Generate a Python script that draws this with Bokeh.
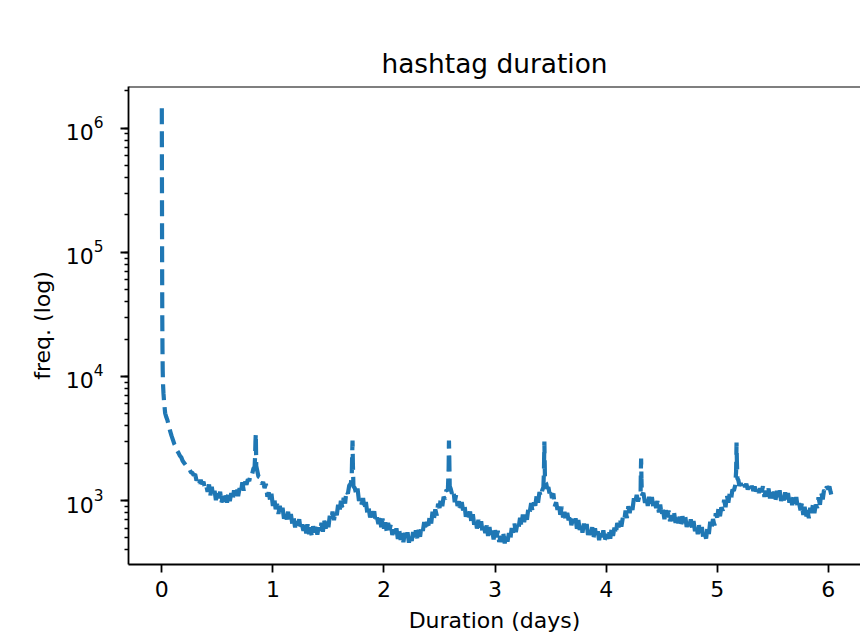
from bokeh.plotting import figure
from bokeh.embed import file_html
from bokeh.resources import INLINE
from bokeh.models import FixedTicker, LogTicker, Span, ColumnDataSource

# (duration in days, frequency), segment by segment
initial_drop = [
    (0.000, 1450000), (0.001, 420000), (0.002, 150000), (0.003, 62000), (0.004, 31000),
    (0.006, 16500), (0.008, 11200), (0.011, 8600), (0.015, 7300), (0.020, 6300),
    (0.030, 5050), (0.040, 4700), (0.050, 4450), (0.062, 4050), (0.075, 3620),
    (0.087, 3330), (0.100, 3080), (0.112, 2860), (0.125, 2720), (0.137, 2530),
    (0.150, 2420), (0.162, 2300), (0.175, 2230), (0.187, 2090), (0.200, 2010),
    (0.212, 1950), (0.225, 1870), (0.237, 1820), (0.250, 1775), (0.262, 1690),
    (0.275, 1670), (0.287, 1600), (0.300, 1630), (0.312, 1450), (0.325, 1512),
    (0.337, 1368), (0.350, 1466), (0.362, 1352), (0.375, 1418), (0.387, 1261),
    (0.400, 1329), (0.412, 1172), (0.425, 1346), (0.437, 1101), (0.450, 1292),
    (0.462, 1067), (0.475, 1197), (0.487, 1008), (0.500, 1188), (0.512, 1042),
    (0.525, 1177), (0.537, 965), (0.550, 1087), (0.562, 977), (0.575, 1145),
    (0.587, 960), (0.600, 1161), (0.612, 989), (0.625, 1145), (0.637, 995),
    (0.650, 1210), (0.662, 1094), (0.675, 1276), (0.687, 1083), (0.700, 1257),
    (0.712, 1163), (0.725, 1401), (0.737, 1201), (0.750, 1421), (0.762, 1342),
    (0.775, 1486), (0.787, 1435), (0.800, 1643), (0.812, 1617), (0.825, 1810),
    (0.835, 1850), (0.840, 2300), (0.843, 3000), (0.846, 3460), (0.848, 2600),
    (0.850, 1900),
]

day1 = [
    (0.860, 1720), (0.870, 1560), (0.887, 1530), (0.900, 1350), (0.912, 1410),
    (0.925, 1260), (0.937, 1364), (0.950, 1074), (0.962, 1164), (0.975, 1004),
    (0.987, 1134), (1.000, 905), (1.012, 1046), (1.025, 851), (1.037, 940),
    (1.050, 779), (1.062, 907), (1.075, 782), (1.087, 875), (1.100, 714),
    (1.112, 793), (1.125, 704), (1.137, 812), (1.150, 664), (1.162, 779),
    (1.175, 644), (1.187, 722), (1.200, 608), (1.212, 717), (1.225, 627),
    (1.237, 706), (1.250, 575), (1.262, 641), (1.275, 570), (1.287, 658),
    (1.300, 542), (1.312, 642), (1.325, 536), (1.337, 607), (1.350, 518),
    (1.362, 620), (1.375, 552), (1.387, 636), (1.400, 531), (1.412, 608),
    (1.425, 556), (1.437, 662), (1.450, 561), (1.462, 687), (1.475, 593),
    (1.487, 694), (1.500, 610), (1.512, 753), (1.525, 689), (1.537, 814),
    (1.550, 695), (1.562, 814), (1.575, 761), (1.587, 924), (1.600, 801),
    (1.612, 997), (1.625, 879), (1.637, 1050), (1.650, 945), (1.662, 1199),
    (1.675, 1133), (1.687, 1321), (1.700, 1360), (1.706, 1450), (1.710, 1600),
    (1.714, 2400), (1.717, 3040), (1.720, 2000), (1.725, 1300),
]

day2 = [
    (1.737, 1260), (1.750, 1130), (1.762, 1249), (1.775, 992), (1.787, 1076),
    (1.800, 930), (1.812, 1046), (1.825, 842), (1.837, 973), (1.850, 794),
    (1.862, 877), (1.875, 729), (1.887, 850), (1.900, 734), (1.912, 820),
    (1.925, 662), (1.937, 731), (1.950, 646), (1.962, 742), (1.975, 608),
    (1.987, 715), (2.000, 593), (2.012, 666), (2.025, 561), (2.037, 661),
    (2.050, 577), (2.062, 649), (2.075, 527), (2.087, 585), (2.100, 519),
    (2.112, 597), (2.125, 490), (2.137, 579), (2.150, 482), (2.162, 544),
    (2.175, 462), (2.187, 550), (2.200, 486), (2.212, 554), (2.225, 458),
    (2.237, 519), (2.250, 472), (2.262, 558), (2.275, 472), (2.287, 576),
    (2.300, 496), (2.312, 580), (2.325, 510), (2.337, 621), (2.350, 568),
    (2.362, 671), (2.375, 573), (2.387, 672), (2.400, 628), (2.412, 752),
    (2.425, 651), (2.437, 812), (2.450, 713), (2.462, 848), (2.475, 756),
    (2.487, 942), (2.500, 869), (2.512, 1040), (2.525, 901), (2.537, 1071),
    (2.550, 1023), (2.562, 1218), (2.575, 1196), (2.582, 1800), (2.585, 3040),
    (2.588, 2200), (2.592, 1300),
]

day3 = [
    (2.600, 1250), (2.612, 1135), (2.625, 1215), (2.637, 969), (2.650, 1112),
    (2.662, 902), (2.675, 987), (2.687, 815), (2.700, 972), (2.712, 833),
    (2.725, 924), (2.737, 741), (2.750, 814), (2.762, 714), (2.775, 815),
    (2.787, 662), (2.800, 774), (2.812, 637), (2.825, 710), (2.837, 594),
    (2.850, 698), (2.862, 607), (2.875, 682), (2.887, 554), (2.900, 615),
    (2.912, 546), (2.925, 630), (2.937, 518), (2.950, 610), (2.962, 509),
    (2.975, 573), (2.987, 486), (3.000, 576), (3.012, 505), (3.025, 570),
    (3.037, 464), (3.050, 518), (3.062, 463), (3.075, 540), (3.087, 450),
    (3.100, 542), (3.112, 465), (3.125, 546), (3.137, 484), (3.150, 600),
    (3.162, 551), (3.175, 651), (3.187, 555), (3.200, 647), (3.212, 601),
    (3.225, 725), (3.237, 623), (3.250, 770), (3.262, 670), (3.275, 790),
    (3.287, 700), (3.300, 870), (3.312, 803), (3.325, 955), (3.337, 821),
    (3.350, 966), (3.362, 908), (3.375, 1106), (3.387, 960), (3.400, 1172),
    (3.412, 1074), (3.425, 1212), (3.435, 1280), (3.440, 1700), (3.444, 2990),
    (3.447, 2000), (3.450, 1400),
]

day4 = [
    (3.460, 1370), (3.470, 1245), (3.480, 1280), (3.490, 1140), (3.500, 1242),
    (3.512, 1046), (3.525, 1139), (3.537, 896), (3.550, 968), (3.562, 842),
    (3.575, 950), (3.587, 767), (3.600, 891), (3.612, 730), (3.625, 812),
    (3.637, 679), (3.650, 796), (3.662, 693), (3.675, 779), (3.687, 632),
    (3.700, 703), (3.712, 624), (3.725, 719), (3.737, 591), (3.750, 697),
    (3.762, 579), (3.775, 651), (3.787, 550), (3.800, 651), (3.812, 571),
    (3.825, 646), (3.837, 528), (3.850, 590), (3.862, 526), (3.875, 610),
    (3.887, 504), (3.900, 597), (3.912, 500), (3.925, 565), (3.937, 480),
    (3.950, 571), (3.962, 504), (3.975, 575), (3.987, 475), (4.000, 539),
    (4.012, 490), (4.025, 581), (4.037, 492), (4.050, 601), (4.062, 518),
    (4.075, 606), (4.087, 534), (4.100, 660), (4.112, 606), (4.125, 718),
    (4.137, 616), (4.150, 724), (4.162, 680), (4.175, 829), (4.187, 722),
    (4.200, 900), (4.212, 791), (4.225, 940), (4.237, 837), (4.250, 1042),
    (4.262, 960), (4.275, 1112), (4.287, 981), (4.300, 1097), (4.310, 1095),
    (4.312, 1600), (4.315, 2180), (4.318, 1500), (4.322, 1100),
]

day5 = [
    (4.335, 1155), (4.350, 957), (4.362, 1071), (4.375, 905), (4.387, 1071),
    (4.400, 941), (4.412, 1067), (4.425, 874), (4.437, 979), (4.450, 870),
    (4.462, 992), (4.475, 801), (4.487, 927), (4.500, 759), (4.512, 843),
    (4.525, 707), (4.537, 834), (4.550, 732), (4.562, 829), (4.575, 680),
    (4.587, 763), (4.600, 684), (4.612, 795), (4.625, 658), (4.637, 782),
    (4.650, 654), (4.662, 740), (4.675, 629), (4.687, 747), (4.700, 658),
    (4.712, 746), (4.725, 611), (4.737, 684), (4.750, 610), (4.762, 705),
    (4.775, 580), (4.787, 682), (4.800, 565), (4.812, 632), (4.825, 536),
    (4.837, 632), (4.850, 547), (4.862, 611), (4.875, 491), (4.887, 544),
    (4.900, 493), (4.912, 610), (4.925, 537), (4.937, 676), (4.950, 598),
    (4.962, 709), (4.975, 630), (4.987, 788), (5.000, 730), (5.012, 869),
    (5.025, 746), (5.037, 881), (5.050, 828), (5.062, 1014), (5.075, 883),
    (5.087, 1101), (5.100, 961), (5.112, 1134), (5.125, 1030), (5.137, 1223),
    (5.150, 1196), (5.162, 1320), (5.170, 1700), (5.174, 2930), (5.177, 2100),
    (5.182, 1500),
]

day6 = [
    (5.190, 1463), (5.200, 1315), (5.212, 1384), (5.225, 1268), (5.237, 1375),
    (5.250, 1284), (5.262, 1363), (5.275, 1229), (5.287, 1295), (5.300, 1222),
    (5.312, 1314), (5.325, 1192), (5.337, 1296), (5.350, 1183), (5.362, 1255),
    (5.375, 1154), (5.387, 1253), (5.400, 1171), (5.412, 1304), (5.425, 1069),
    (5.437, 1200), (5.450, 1075), (5.462, 1251), (5.475, 1037), (5.487, 1235),
    (5.500, 1037), (5.512, 1177), (5.525, 1004), (5.537, 1198), (5.550, 1059),
    (5.562, 1207), (5.575, 992), (5.587, 1115), (5.600, 1001), (5.612, 1165),
    (5.625, 966), (5.637, 1149), (5.650, 961), (5.662, 1086), (5.675, 918),
    (5.687, 1083), (5.700, 946), (5.712, 1065), (5.725, 865), (5.737, 953),
    (5.750, 834), (5.762, 946), (5.775, 764), (5.787, 888), (5.800, 736),
    (5.812, 835), (5.825, 720), (5.837, 875), (5.850, 792), (5.862, 930),
    (5.875, 792), (5.887, 927), (5.900, 870), (5.912, 1063), (5.925, 924),
    (5.937, 1155), (5.950, 1021), (5.962, 1218), (5.975, 1162), (5.987, 1295),
    (6.000, 1235), (6.010, 1300), (6.020, 1180), (6.036, 1040),
]

x_ticks = [0, 1, 2, 3, 4, 5, 6]
X_START, X_END = -0.30, 6.29
Y_START, Y_END = 305, 2.17e6

segments = [initial_drop, day1, day2, day3, day4, day5, day6]
duration = [pt[0] for seg in segments for pt in seg]
freq = [pt[1] for seg in segments for pt in seg]
src = ColumnDataSource(data=dict(duration=duration, freq=freq))

FONT = "DejaVu Sans"

p = figure(width=860, height=640, y_axis_type="log",
           x_range=(X_START, X_END), y_range=(Y_START, Y_END),
           output_backend="svg", toolbar_location=None,
           title="hashtag duration",
           min_border_left=128, min_border_right=0,
           min_border_top=86, min_border_bottom=76)

p.line("duration", "freq", source=src, line_color="#1f77b4", line_width=4.2,
       line_dash="16 7")

p.title.text_font = FONT
p.title.text_font_size = "26.4px"
p.title.text_font_style = "normal"
p.title.text_color = "black"
p.title.align = "center"
p.title.offset = 3
p.title.standoff = 16

p.xgrid.grid_line_color = None
p.ygrid.grid_line_color = None
p.outline_line_color = None
p.background_fill_color = "white"
p.border_fill_color = "white"

top_spine = Span(location=Y_END, dimension="width", line_color="black", line_width=1.8)
p.add_layout(top_spine)

for ax in (p.xaxis[0], p.yaxis[0]):
    ax.axis_line_color = "black"
    ax.axis_line_width = 1.8
    ax.major_tick_line_color = "black"
    ax.major_tick_line_width = 1.8
    ax.major_tick_in = 0
    ax.major_tick_out = 8
    ax.minor_tick_line_color = "black"
    ax.minor_tick_line_width = 1.3
    ax.minor_tick_in = 0
    ax.minor_tick_out = 4
    ax.major_label_text_font = FONT
    ax.major_label_text_font_size = "22px"
    ax.major_label_text_color = "black"
    ax.axis_label_text_font = FONT
    ax.axis_label_text_font_size = "22px"
    ax.axis_label_text_font_style = "normal"
    ax.axis_label_text_color = "black"

p.xaxis.ticker = FixedTicker(ticks=x_ticks)
p.xaxis.minor_tick_line_color = None
p.xaxis.axis_label = "Duration (days)"
p.xaxis.major_label_standoff = 8
p.xaxis.axis_label_standoff = 8

p.yaxis.ticker = LogTicker(num_minor_ticks=10)
p.yaxis.axis_label = "freq. (log)"
p.yaxis.major_label_standoff = 17
p.yaxis.axis_label_standoff = 8

open("out.html", "w").write(file_html(p, INLINE))
